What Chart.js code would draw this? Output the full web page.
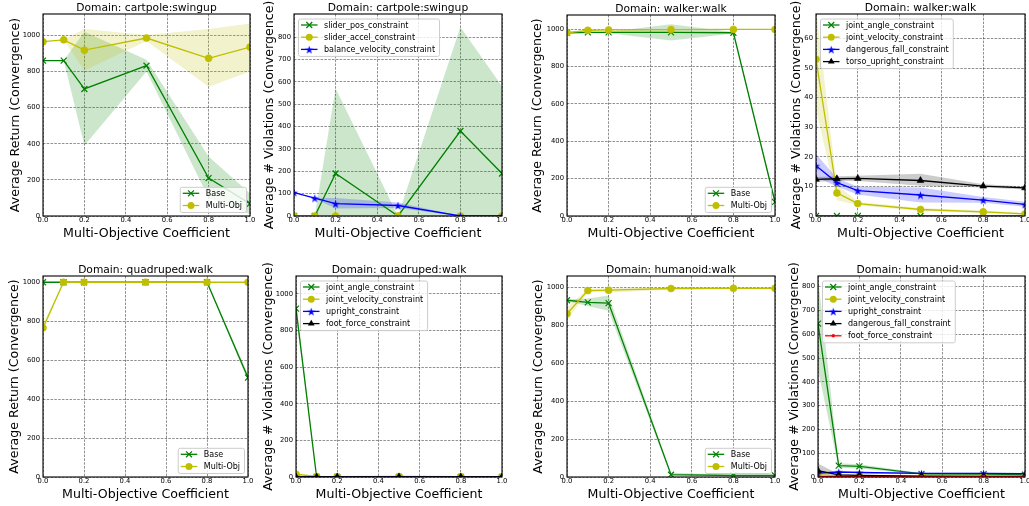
<!DOCTYPE html>
<html><head><meta charset="utf-8">
<script src="https://cdn.jsdelivr.net/npm/chart.js@4/dist/chart.umd.min.js"></script>
<style>
html,body{margin:0;padding:0;background:#fff;}
body{width:1029px;height:506px;position:relative;overflow:hidden;}
canvas{position:absolute;}
</style>
</head><body>
<script>
// ---------------- DATA ----------------
const xCoeffs = [0, 0.1, 0.2, 0.5, 0.8, 1.0];
const xTickValues = [0, 0.2, 0.4, 0.6, 0.8, 1.0];
const ticksReturn = [0, 200, 400, 600, 800, 1000];
const ticksViol800 = [0, 100, 200, 300, 400, 500, 600, 700, 800];
const ticksViol60 = [0, 10, 20, 30, 40, 50, 60];

// cartpole:swingup return
const cartRetBase = [860, 860, 703, 832, 210, 68];
const cartRetBaseLo = [860, 860, 390, 800, 100, 10];
const cartRetBaseHi = [860, 860, 1020, 865, 330, 125];
const cartRetMulti = [965, 975, 918, 985, 873, 935];
const cartRetMultiLo = [965, 975, 805, 968, 715, 800];
const cartRetMultiHi = [965, 975, 1035, 1002, 1035, 1065];
// cartpole:swingup violations
const cartVioPos = [0, 0, 190, 0, 380, 190];
const cartVioPosLo = [0, 0, -190, 0, -85, -200];
const cartVioPosHi = [0, 0, 570, 0, 845, 580];
const cartVioAccel = [0, 0, 0, 0, 0, 0];
const cartVioBal = [105, 80, 55, 47, 0, 0];
const cartVioBalLo = [105, 78, 33, 36, 0, 0];
const cartVioBalHi = [105, 82, 80, 60, 0, 0];
// walker:walk return
const walkRetBase = [980, 982, 982, 982, 980, 75];
const walkRetBaseLo = [976, 978, 978, 938, 976, 60];
const walkRetBaseHi = [984, 986, 986, 1026, 984, 90];
const walkRetMulti = [980, 993, 995, 997, 998, 998];
const walkRetMultiLo = [976, 990, 992, 994, 996, 996];
const walkRetMultiHi = [984, 996, 998, 1000, 1000, 1000];
// walker:walk violations
const walkVioAngle = [0, 0, 0, 0, 0, 0];
const walkVioVel = [53, 7.8, 4.2, 2.2, 1.4, 0.7];
const walkVioVelLo = [36, 5.3, 3.6, 1.7, 0.9, 0.3];
const walkVioVelHi = [70, 10.5, 4.8, 2.7, 1.9, 1.1];
const walkVioFall = [17, 11.3, 8.6, 7.1, 5.4, 3.9];
const walkVioFallLo = [13.2, 10, 7.3, 4.6, 4.5, 3.1];
const walkVioFallHi = [21, 12.8, 9.9, 9.6, 6.4, 4.8];
const walkVioTorso = [12.4, 12.6, 12.7, 12.0, 10.1, 9.5];
const walkVioTorsoLo = [11.6, 11.8, 11.8, 10.2, 9.6, 9.0];
const walkVioTorsoHi = [13.2, 13.4, 13.6, 14.3, 10.7, 10.0];
// quadruped:walk return
const quadRetBase = [1000, 1000, 1000, 1000, 1000, 510];
const quadRetBaseLo = [1000, 1000, 1000, 1000, 1000, 492];
const quadRetBaseHi = [1000, 1000, 1000, 1000, 1000, 528];
const quadRetMulti = [766, 1000, 1000, 1000, 1000, 1000];
const quadRetMultiLo = [745, 1000, 1000, 1000, 1000, 1000];
const quadRetMultiHi = [787, 1000, 1000, 1000, 1000, 1000];
// quadruped:walk violations
const quadVioAngle = [920, 0, 0, 0, 0, 0];
const quadVioAngleLo = [880, 0, 0, 0, 0, 0];
const quadVioAngleHi = [960, 0, 0, 0, 0, 0];
const quadVioVel = [15, 3, 2, 3, 2, 1];
const quadVioUpright = [0, 0, 0, 0, 0, 0];
const quadVioFoot = [0, 0, 0, 0, 0, 0];
// humanoid:walk return
const humRetBase = [933, 922, 918, 12, 8, 8];
const humRetBaseLo = [928, 902, 878, 2, 4, 4];
const humRetBaseHi = [938, 942, 958, 22, 12, 12];
const humRetMulti = [862, 984, 986, 995, 996, 996];
const humRetMultiLo = [828, 976, 974, 989, 991, 991];
const humRetMultiHi = [896, 992, 998, 1001, 1001, 1001];
// humanoid:walk violations
const humVioAngle = [645, 48, 45, 13, 12, 10];
const humVioAngleLo = [450, 38, 36, 9, 9, 7];
const humVioAngleHi = [840, 58, 54, 17, 15, 13];
const humVioVel = [9, 5, 5, 4, 4, 4];
const humVioUpright = [16, 21, 19, 15, 15, 14];
const humVioUprightLo = [13, 18, 16, 12, 12, 11];
const humVioUprightHi = [19, 24, 22, 18, 18, 17];
const humVioFall = [27, 9, 7, 4, 3, 3];
const humVioFallLo = [5, 6, 5, 3, 2, 2];
const humVioFallHi = [57, 12, 9, 5, 4, 4];
const humVioFoot = [1, 1, 1, 1, 1, 1];

// ---------------- STYLE / LAYOUT ----------------
const FONT = '"DejaVu Sans", sans-serif';
const STYLES = {
  green:  {color: '#008000', band: 'rgba(0,128,0,0.2)',   point: 'crossRot', radius: 4.2},
  yellow: {color: '#bfbf00', band: 'rgba(191,191,0,0.2)', point: 'circle',   radius: 3.5},
  blue:   {color: '#0000ff', band: 'rgba(0,0,255,0.2)',   point: 'star',     radius: 4.4},
  black:  {color: '#000000', band: 'rgba(0,0,0,0.2)',     point: 'triangle', radius: 3.9},
  red:    {color: '#ff0000', band: 'rgba(255,0,0,0.2)',   point: 'circle',   radius: 1.7}
};
const YLAB_RET = 'Average Return (Convergence)';
const YLAB_VIO = 'Average # Violations (Convergence)';

const panels = [
  {title: 'Domain: cartpole:swingup', ylabel: YLAB_RET, yMax: 1118, yTicks: ticksReturn, legend: 'lr',
   rect: {l: 43, t: 14, r: 250, b: 216}, yOff: 27,
   series: [
     {label: 'Base', s: 'green', mean: cartRetBase, lo: cartRetBaseLo, hi: cartRetBaseHi},
     {label: 'Multi-Obj', s: 'yellow', mean: cartRetMulti, lo: cartRetMultiLo, hi: cartRetMultiHi}]},
  {title: 'Domain: cartpole:swingup', ylabel: YLAB_VIO, yMax: 903, yTicks: ticksViol800, legend: 'ul',
   rect: {l: 294, t: 14, r: 502, b: 216}, yOff: 24,
   series: [
     {label: 'slider_pos_constraint', s: 'green', mean: cartVioPos, lo: cartVioPosLo, hi: cartVioPosHi},
     {label: 'slider_accel_constraint', s: 'yellow', mean: cartVioAccel},
     {label: 'balance_velocity_constraint', s: 'blue', mean: cartVioBal, lo: cartVioBalLo, hi: cartVioBalHi}]},
  {title: 'Domain: walker:walk', ylabel: YLAB_RET, yMax: 1075, yTicks: ticksReturn, legend: 'lr',
   rect: {l: 567, t: 15, r: 775, b: 216}, yOff: 29,
   series: [
     {label: 'Base', s: 'green', mean: walkRetBase, lo: walkRetBaseLo, hi: walkRetBaseHi},
     {label: 'Multi-Obj', s: 'yellow', mean: walkRetMulti, lo: walkRetMultiLo, hi: walkRetMultiHi}]},
  {title: 'Domain: walker:walk', ylabel: YLAB_VIO, yMax: 68.3, yTicks: ticksViol60, legend: 'ul',
   rect: {l: 816, t: 14, r: 1025, b: 216}, yOff: 19,
   series: [
     {label: 'joint_angle_constraint', s: 'green', mean: walkVioAngle},
     {label: 'joint_velocity_constraint', s: 'yellow', mean: walkVioVel, lo: walkVioVelLo, hi: walkVioVelHi},
     {label: 'dangerous_fall_constraint', s: 'blue', mean: walkVioFall, lo: walkVioFallLo, hi: walkVioFallHi},
     {label: 'torso_upright_constraint', s: 'black', mean: walkVioTorso, lo: walkVioTorsoLo, hi: walkVioTorsoHi}]},
  {title: 'Domain: quadruped:walk', ylabel: YLAB_RET, yMax: 1032, yTicks: ticksReturn, legend: 'lr',
   rect: {l: 43, t: 276, r: 248, b: 477}, yOff: 28,
   series: [
     {label: 'Base', s: 'green', mean: quadRetBase, lo: quadRetBaseLo, hi: quadRetBaseHi},
     {label: 'Multi-Obj', s: 'yellow', mean: quadRetMulti, lo: quadRetMultiLo, hi: quadRetMultiHi}]},
  {title: 'Domain: quadruped:walk', ylabel: YLAB_VIO, yMax: 1098, yTicks: ticksReturn, legend: 'ul',
   rect: {l: 296, t: 276, r: 502, b: 477}, yOff: 27,
   series: [
     {label: 'joint_angle_constraint', s: 'green', mean: quadVioAngle, lo: quadVioAngleLo, hi: quadVioAngleHi},
     {label: 'joint_velocity_constraint', s: 'yellow', mean: quadVioVel},
     {label: 'upright_constraint', s: 'blue', mean: quadVioUpright},
     {label: 'foot_force_constraint', s: 'black', mean: quadVioFoot}]},
  {title: 'Domain: humanoid:walk', ylabel: YLAB_RET, yMax: 1061, yTicks: ticksReturn, legend: 'lr',
   rect: {l: 567, t: 276, r: 775, b: 477}, yOff: 28,
   series: [
     {label: 'Base', s: 'green', mean: humRetBase, lo: humRetBaseLo, hi: humRetBaseHi},
     {label: 'Multi-Obj', s: 'yellow', mean: humRetMulti, lo: humRetMultiLo, hi: humRetMultiHi}]},
  {title: 'Domain: humanoid:walk', ylabel: YLAB_VIO, yMax: 845, yTicks: ticksViol800, legend: 'ul',
   rect: {l: 818, t: 276, r: 1025, b: 477}, yOff: 23,
   series: [
     {label: 'joint_angle_constraint', s: 'green', mean: humVioAngle, lo: humVioAngleLo, hi: humVioAngleHi},
     {label: 'joint_velocity_constraint', s: 'yellow', mean: humVioVel},
     {label: 'upright_constraint', s: 'blue', mean: humVioUpright, lo: humVioUprightLo, hi: humVioUprightHi},
     {label: 'dangerous_fall_constraint', s: 'black', mean: humVioFall, lo: humVioFallLo, hi: humVioFallHi},
     {label: 'foot_force_constraint', s: 'red', mean: humVioFoot}]}
];

const YW = 45, PT = 18, PR = 10, HX = 25;

// star marker image
const starCache = {};
function starImage(color, r) {
  const key = color + r;
  if (starCache[key]) return starCache[key];
  const size = Math.ceil(2 * r + 2);
  const c = document.createElement('canvas');
  c.width = size; c.height = size;
  const g = c.getContext('2d');
  g.fillStyle = color;
  g.beginPath();
  for (let k = 0; k < 10; k++) {
    const rr = (k % 2) ? r * 0.382 : r;
    const a = -Math.PI / 2 + k * Math.PI / 5;
    g.lineTo(size / 2 + rr * Math.cos(a), size / 2 + 0.6 + rr * Math.sin(a));
  }
  g.closePath(); g.fill();
  starCache[key] = c;
  return c;
}

function drawMarker(ctx, st, x, y) {
  const r = st.radius;
  ctx.save();
  ctx.fillStyle = st.color; ctx.strokeStyle = st.color; ctx.lineWidth = 1.2;
  ctx.beginPath();
  if (st.point === 'crossRot') {
    const d = r * Math.SQRT1_2;
    ctx.moveTo(x - d, y - d); ctx.lineTo(x + d, y + d);
    ctx.moveTo(x + d, y - d); ctx.lineTo(x - d, y + d);
    ctx.stroke();
  } else if (st.point === 'circle') {
    ctx.arc(x, y, r, 0, Math.PI * 2); ctx.fill();
  } else if (st.point === 'triangle') {
    for (let k = 0; k < 3; k++) {
      const a = k * 2 * Math.PI / 3;
      ctx.lineTo(x + Math.sin(a) * r, y - Math.cos(a) * r);
    }
    ctx.closePath(); ctx.fill();
  } else if (st.point === 'star') {
    const img = starImage(st.color, r);
    ctx.drawImage(img, x - img.width / 2, y - img.height / 2);
  }
  ctx.restore();
}

function makePlugin(P) {
  return {
    id: 'panelDecor',
    afterDatasetsDraw(chart) {
      const a = chart.chartArea, ctx = chart.ctx;
      ctx.save();
      ctx.strokeStyle = '#000'; ctx.lineWidth = 1.1;
      ctx.strokeRect(a.left, a.top, a.right - a.left, a.bottom - a.top);
      ctx.restore();
    },
    afterDraw(chart) {
      const a = chart.chartArea, ctx = chart.ctx;
      ctx.save();
      ctx.fillStyle = '#000';
      ctx.font = '10.7px ' + FONT;
      ctx.textAlign = 'center'; ctx.textBaseline = 'middle';
      ctx.fillText(P.title, (a.left + a.right) / 2, a.top - 6);
      ctx.font = '12.6px ' + FONT;
      ctx.translate(a.left - P.yOff, (a.top + a.bottom) / 2);
      ctx.rotate(-Math.PI / 2);
      ctx.fillText(P.ylabel, 0, 0);
      ctx.restore();
      // legend
      ctx.save();
      ctx.font = '8px ' + FONT;
      let tw = 0;
      P.series.forEach(s => { tw = Math.max(tw, ctx.measureText(s.label).width); });
      const pitch = 12.2, n = P.series.length;
      const bw = 3 + 16.5 + 6.5 + tw + 4;
      const bh = (n - 1) * pitch + 13;
      let bx, by;
      if (P.legend === 'lr') { bx = a.right - 4 - bw; by = a.bottom - 4 - bh; }
      else { bx = a.left + 4; by = a.top + 4.5; }
      ctx.beginPath();
      if (ctx.roundRect) ctx.roundRect(bx + 0.5, by + 0.5, bw, bh, 2); else ctx.rect(bx + 0.5, by + 0.5, bw, bh);
      ctx.fillStyle = 'rgba(255,255,255,0.8)'; ctx.fill();
      ctx.strokeStyle = '#cccccc'; ctx.lineWidth = 1; ctx.stroke();
      P.series.forEach((s, i) => {
        const st = STYLES[s.s];
        const y = by + 6.5 + i * pitch;
        const x0 = bx + 3;
        ctx.strokeStyle = st.color; ctx.lineWidth = 1.3;
        ctx.beginPath(); ctx.moveTo(x0, y); ctx.lineTo(x0 + 16.5, y); ctx.stroke();
        drawMarker(ctx, st, x0 + 8.25, y);
        ctx.fillStyle = '#000'; ctx.textAlign = 'left'; ctx.textBaseline = 'middle';
        ctx.fillText(s.label, x0 + 16.5 + 6.5, y + 0.5);
      });
      ctx.restore();
    }
  };
}

Chart.defaults.font.family = FONT;

panels.forEach(P => {
  const R = P.rect;
  const W = (R.r - R.l) + YW + PR;
  const H = (R.b - R.t) + PT + HX;
  const cv = document.createElement('canvas');
  cv.width = W; cv.height = H;
  cv.style.left = (R.l - YW) + 'px'; cv.style.top = (R.t - PT) + 'px';
  cv.style.width = W + 'px'; cv.style.height = H + 'px';
  document.body.appendChild(cv);

  const datasets = [];
  const n = P.series.length;
  P.series.forEach((s, i) => {
    const st = STYLES[s.s];
    if (s.lo && s.hi) {
      datasets.push({
        data: xCoeffs.map((x, k) => ({x, y: s.hi[k]})),
        borderWidth: 0, pointRadius: 0, backgroundColor: st.band, borderColor: 'rgba(0,0,0,0)',
        fill: '+1', order: 100 + (n - i), clip: 0, tension: 0
      });
      datasets.push({
        data: xCoeffs.map((x, k) => ({x, y: s.lo[k]})),
        borderWidth: 0, pointRadius: 0, borderColor: 'rgba(0,0,0,0)',
        fill: false, order: 100 + (n - i), clip: 0, tension: 0
      });
    }
    const ps = st.point === 'star' ? starImage(st.color, st.radius) : st.point;
    datasets.push({
      label: s.label,
      data: xCoeffs.map((x, k) => ({x, y: s.mean[k]})),
      borderColor: st.color, borderWidth: 1.3, backgroundColor: st.color,
      pointStyle: ps, pointRadius: st.radius, pointBackgroundColor: st.color,
      pointBorderColor: st.color, pointBorderWidth: st.point === 'crossRot' ? 1.2 : 0.6,
      fill: false, order: n - i, clip: 0, tension: 0
    });
  });

  new Chart(cv, {
    type: 'line',
    data: {datasets},
    options: {
      responsive: false, animation: false, devicePixelRatio: 1,
      layout: {padding: {top: PT, right: PR, left: 0, bottom: 0}},
      plugins: {legend: {display: false}, tooltip: {enabled: false}, title: {display: false}},
      events: [],
      scales: {
        x: {
          type: 'linear', min: 0, max: 1,
          afterBuildTicks: sc => { sc.ticks = xTickValues.map(v => ({value: v})); },
          afterFit: sc => { sc.height = HX; },
          ticks: {font: {size: 6.8, family: FONT}, color: '#000', padding: 0, maxRotation: 0, autoSkip: false,
                  callback: v => Number(v).toFixed(1)},
          grid: {color: 'rgba(0,0,0,0.55)', lineWidth: 0.8, drawTicks: false},
          border: {display: false, dash: [2.5, 1.3]},
          title: {display: true, text: 'Multi-Objective Coefficient', color: '#000',
                  font: {size: 12.6, family: FONT}, padding: {top: 0, bottom: 0}}
        },
        y: {
          type: 'linear', min: 0, max: P.yMax,
          afterBuildTicks: sc => { sc.ticks = P.yTicks.map(v => ({value: v})); },
          afterFit: sc => { sc.width = YW; },
          ticks: {font: {size: 6.8, family: FONT}, color: '#000', padding: 3, autoSkip: false,
                  callback: v => String(v)},
          grid: {color: 'rgba(0,0,0,0.55)', lineWidth: 0.8, drawTicks: false},
          border: {display: false, dash: [2.5, 1.3]}
        }
      }
    },
    plugins: [makePlugin(P)]
  });
});
</script>
</body></html>
